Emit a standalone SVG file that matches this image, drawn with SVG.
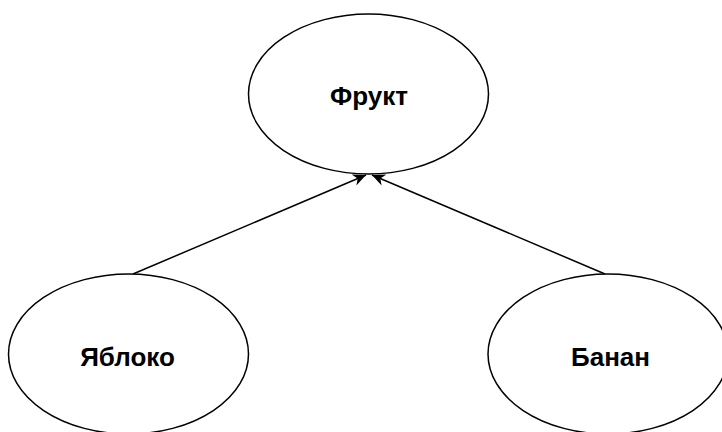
<svg xmlns="http://www.w3.org/2000/svg" width="722" height="432" viewBox="0 0 722 432">
<style>
.node ellipse{fill:#fff;stroke:#000;stroke-width:1.5}
.node text{font-family:"Liberation Sans",Arial,sans-serif;font-weight:bold;font-size:26px;fill:#000;text-anchor:middle}
.edge{stroke:#000;stroke-width:1.5;fill:none}
</style>
<defs>
<marker id="arr" markerWidth="14" markerHeight="12" refX="13" refY="6" orient="auto" markerUnits="userSpaceOnUse" viewBox="0 0 14 12">
<path d="M0,0 L13,6 L0,12 L4,6 Z" fill="#000"/>
</marker>
</defs>
<g id="edges">
<line class="edge" x1="133" y1="274" x2="366" y2="175" marker-end="url(#arr)"/>
<line class="edge" x1="605" y1="274" x2="372" y2="175" marker-end="url(#arr)"/>
</g>
<g id="fruit" class="node">
<ellipse cx="368.5" cy="94" rx="120" ry="80"/>
<text x="369" y="105">Фрукт</text>
</g>
<g id="apple" class="node">
<ellipse cx="128.5" cy="354" rx="120" ry="80"/>
<text x="127.5" y="366">Яблоко</text>
</g>
<g id="banana" class="node">
<ellipse cx="608" cy="354" rx="120" ry="80"/>
<text x="610.5" y="366">Банан</text>
</g>
</svg>
